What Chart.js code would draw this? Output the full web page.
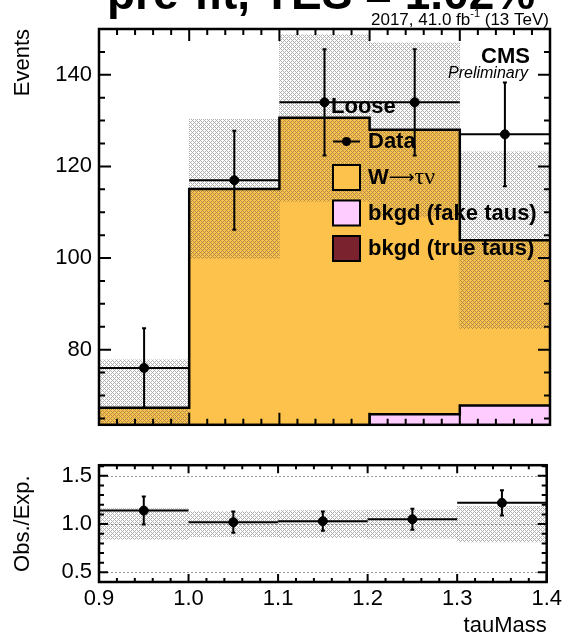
<!DOCTYPE html>
<html>
<head>
<meta charset="utf-8">
<script src="https://cdn.jsdelivr.net/npm/chart.js@4.4.1/dist/chart.umd.min.js"></script>
<style>
  html, body { margin: 0; padding: 0; background: #fff; overflow: hidden; }
  #wrap { position: relative; width: 566px; height: 637px; }
  #top { position: absolute; left: 0; top: 0; }
  #ratio { position: absolute; left: 0; top: 445px; }
</style>
</head>
<body>
<div id="wrap">
  <canvas id="top" width="566" height="445"></canvas>
  <canvas id="ratio" width="566" height="192"></canvas>
</div>
<script>
// tauMass bins
const binEdges = [0.9, 1.0, 1.1, 1.2, 1.3, 1.4];
const binCenters = [0.95, 1.05, 1.15, 1.25, 1.35];

// observed events and their errors
const dataEvents = [76, 117, 134, 134, 127];
const dataErr = [8.7, 10.8, 11.6, 11.6, 11.3];

// expected contributions (stacked from the bottom: true taus, fake taus, W)
const trueTaus = [22, 24, 26, 27, 28];
const fakeTaus = [36, 37, 37, 38.9, 39.8];
const wTauNu = [9.3, 54.1, 67.6, 62.1, 36.1];
const expErr = [10.5, 15.2, 18.2, 19.0, 19.3];

// ratio panel
const ratioVals = [1.14, 1.02, 1.03, 1.05, 1.22];
const ratioErr = [0.145, 0.11, 0.10, 0.11, 0.13];
const ratioBandErr = [0.16, 0.13, 0.14, 0.145, 0.185];

// tick labels
const xTicks = [0.9, 1.0, 1.1, 1.2, 1.3, 1.4];
const yTicks = [80, 100, 120, 140];
const ratioTicks = [0.5, 1.0, 1.5];

const ORANGE = '#fdc24b';
const PINK = '#ffccff';
const MAROON = '#7a222e';
const FONT = '"Liberation Sans", Arial, Helvetica, sans-serif';
const SERIF = '"Liberation Serif", "Times New Roman", serif';

// cumulative stacks
const stackTrue = trueTaus.slice();
const stackFake = fakeTaus.map((v, i) => v + trueTaus[i]);
const stackTotal = wTauNu.map((v, i) => v + stackFake[i]);

function range(a, b, step) {
  const out = [];
  for (let v = a; v <= b + 1e-9; v += step) out.push(+v.toFixed(4));
  return out;
}

function makeHatch(color) {
  const c = document.createElement('canvas');
  c.width = 4; c.height = 4;
  const g = c.getContext('2d');
  g.fillStyle = color;
  for (let x = 0; x < 4; x++) {
    for (let y = 0; y < 4; y++) {
      if ((x + y) % 4 === 0 || (x - y + 4) % 4 === 0) g.fillRect(x, y, 1, 1);
    }
  }
  return g.createPattern(c, 'repeat');
}

const hatch = makeHatch('rgba(80,80,80,0.45)');

const bars = vals => binCenters.map((x, i) => ({ x, y: vals[i] }));
const stepPoints = vals => binEdges.map((x, i) => ({ x, y: vals[Math.min(i, vals.length - 1)] }));

// draws the frame and inward ticks, ROOT style
const framePlugin = {
  id: 'frame',
  beforeDatasetsDraw(chart, args, o) {
    if (!o.dotted) return;
    const { ctx, chartArea: a, scales: { y } } = chart;
    ctx.save();
    ctx.strokeStyle = '#999';
    ctx.lineWidth = 1;
    ctx.setLineDash([2, 2]);
    o.dotted.forEach(v => {
      const py = Math.round(y.getPixelForValue(v)) + 0.5;
      ctx.beginPath();
      ctx.moveTo(a.left, py);
      ctx.lineTo(a.right, py);
      ctx.stroke();
    });
    ctx.restore();
  },
  afterDraw(chart, args, o) {
    const { ctx, chartArea: a, scales: { x, y } } = chart;
    ctx.save();
    ctx.strokeStyle = '#000';
    ctx.lineWidth = 2;
    ctx.beginPath();
    const xt = (vals, len) => vals.forEach(v => {
      const px = x.getPixelForValue(v);
      ctx.moveTo(px, a.bottom); ctx.lineTo(px, a.bottom - len);
      ctx.moveTo(px, a.top); ctx.lineTo(px, a.top + len);
    });
    const yt = (vals, len) => vals.forEach(v => {
      const py = y.getPixelForValue(v);
      if (py < a.top || py > a.bottom) return;
      ctx.moveTo(a.left, py); ctx.lineTo(a.left + len, py);
      ctx.moveTo(a.right, py); ctx.lineTo(a.right - len, py);
    });
    xt(o.xMajor, o.xMajorLen);
    xt(o.xMinor, o.xMinorLen);
    yt(o.yMajor, o.yMajorLen);
    yt(o.yMinor, o.yMinorLen);
    ctx.stroke();
    ctx.lineWidth = 2.5;
    ctx.strokeRect(a.left, a.top, a.right - a.left, a.bottom - a.top);
    ctx.restore();
  }
};

// vertical error bars + horizontal bin-width bars for datasets with errY
const errorBarPlugin = {
  id: 'errorBars',
  afterDatasetsDraw(chart) {
    const { ctx, chartArea: a, scales: { x, y } } = chart;
    chart.data.datasets.forEach(ds => {
      if (!ds.errY) return;
      ctx.save();
      ctx.beginPath();
      ctx.rect(a.left, a.top, a.right - a.left, a.bottom - a.top);
      ctx.clip();
      ctx.strokeStyle = '#000';
      ctx.lineWidth = 2;
      ds.data.forEach((p, i) => {
        const px = x.getPixelForValue(p.x);
        const py = y.getPixelForValue(p.y);
        const hi = y.getPixelForValue(p.y + ds.errY[i]);
        const lo = y.getPixelForValue(p.y - ds.errY[i]);
        ctx.beginPath();
        ctx.moveTo(px, lo); ctx.lineTo(px, hi);
        ctx.moveTo(px - 2, lo); ctx.lineTo(px + 2, lo);
        ctx.moveTo(px - 2, hi); ctx.lineTo(px + 2, hi);
        ctx.moveTo(x.getPixelForValue(binEdges[i]), py);
        ctx.lineTo(x.getPixelForValue(binEdges[i + 1]), py);
        ctx.stroke();
      });
      ctx.restore();
    });
  }
};

// legend, CMS label, lumi text and the (cut) title
const labelsPlugin = {
  id: 'labels',
  afterDatasetsDraw(chart) {
    const ctx = chart.ctx;
    ctx.save();
    ctx.fillStyle = '#000';
    ctx.textBaseline = 'alphabetic';

    // big title, mostly above the window
    ctx.font = 'bold 46px ' + FONT;
    ctx.textAlign = 'left';
    ctx.fillText('pre-fit, TES = 1.02%', 107, 9);

    // lumi
    ctx.font = '17px ' + FONT;
    ctx.textAlign = 'right';
    const part2 = ' (13 TeV)';
    let xr = 549;
    ctx.fillText(part2, xr, 25);
    xr -= ctx.measureText(part2).width;
    ctx.font = '11px ' + FONT;
    ctx.fillText('-1', xr, 17);
    xr -= ctx.measureText('-1').width;
    ctx.font = '17px ' + FONT;
    ctx.fillText('2017, 41.0 fb', xr, 25);

    // CMS Preliminary
    ctx.font = 'bold 22px ' + FONT;
    ctx.fillText('CMS', 530, 63);
    ctx.font = 'italic 16px ' + FONT;
    ctx.fillText('Preliminary', 528, 78);

    // legend
    ctx.textAlign = 'left';
    ctx.textBaseline = 'middle';
    ctx.font = 'bold 22px ' + FONT;
    ctx.fillText('Loose', 331, 107);

    ctx.strokeStyle = '#000';
    ctx.lineWidth = 2;
    ctx.beginPath();
    ctx.moveTo(333, 141.5); ctx.lineTo(360, 141.5);
    ctx.stroke();
    ctx.beginPath();
    ctx.arc(346.5, 141.5, 4.5, 0, Math.PI * 2);
    ctx.fill();
    ctx.fillText('Data', 368, 142);

    const entries = [
      { ds: 0, y: 165 },
      { ds: 1, y: 200.5 },
      { ds: 2, y: 236 }
    ];
    entries.forEach(e => {
      const d = chart.data.datasets[e.ds];
      ctx.fillStyle = d.backgroundColor;
      ctx.fillRect(333, e.y, 27, 25);
      ctx.strokeRect(333, e.y, 27, 25);
      ctx.fillStyle = '#000';
      if (d.legendParts) {
        let xp = 368;
        d.legendParts.forEach(([txt, font]) => {
          ctx.font = font;
          ctx.fillText(txt, xp, e.y + 13);
          xp += ctx.measureText(txt).width;
        });
      } else {
        ctx.font = 'bold 22px ' + FONT;
        ctx.fillText(d.label, 368, e.y + 13);
      }
    });
    ctx.restore();
  }
};

const axisFont = { family: FONT, size: 22 };
const noGrid = { display: false, drawTicks: false };

new Chart(document.getElementById('top'), {
  type: 'bar',
  data: {
    datasets: [
      {
        label: 'W→τν',
        legendParts: [['W', 'bold 22px ' + FONT], ['⟶', '18px "DejaVu Sans", sans-serif'], ['τν', '24px ' + SERIF]],
        data: bars(stackTotal), backgroundColor: ORANGE, order: 10
      },
      { label: 'bkgd (fake taus)', data: bars(stackFake), backgroundColor: PINK, order: 9 },
      { label: 'bkgd (true taus)', data: bars(stackTrue), backgroundColor: MAROON, order: 8 },
      {
        label: 'uncertainty',
        data: binCenters.map((x, i) => ({ x, y: [stackTotal[i] - expErr[i], stackTotal[i] + expErr[i]] })),
        backgroundColor: hatch, order: 7
      },
      { type: 'line', data: stepPoints(stackTrue), stepped: 'before', borderColor: '#000', borderWidth: 2.5, pointRadius: 0, order: 6 },
      { type: 'line', data: stepPoints(stackFake), stepped: 'before', borderColor: '#000', borderWidth: 2.5, pointRadius: 0, order: 5 },
      { type: 'line', data: stepPoints(stackTotal), stepped: 'before', borderColor: '#000', borderWidth: 2.5, pointRadius: 0, order: 4 },
      {
        type: 'line', label: 'Data', data: bars(dataEvents), errY: dataErr, showLine: false,
        pointRadius: 4.5, pointBackgroundColor: '#000', pointBorderColor: '#000', order: 1
      }
    ]
  },
  options: {
    responsive: false,
    animation: false,
    layout: { padding: { left: 0, right: 16, top: 29, bottom: 0 } },
    datasets: { bar: { grouped: false, barPercentage: 1, categoryPercentage: 1, borderWidth: 0 } },
    plugins: {
      legend: { display: false },
      tooltip: { enabled: false },
      frame: {
        xMajor: xTicks, xMinor: range(0.9, 1.4, 0.02), xMajorLen: 12, xMinorLen: 6,
        yMajor: yTicks, yMinor: range(65, 150, 5), yMajorLen: 12, yMinorLen: 6
      }
    },
    scales: {
      x: {
        type: 'linear', min: 0.9, max: 1.4, offset: false,
        grid: noGrid, border: { display: false },
        ticks: { display: false },
        afterBuildTicks: s => { s.ticks = xTicks.map(v => ({ value: v })); },
        afterFit: s => { s.height = 11; }
      },
      y: {
        min: 63.6, max: 150,
        grid: noGrid, border: { display: false },
        ticks: { font: axisFont, color: '#000', padding: 7 },
        afterBuildTicks: s => { s.ticks = yTicks.map(v => ({ value: v })); },
        afterFit: s => { s.width = 99; },
        title: { display: true, text: 'Events', align: 'end', color: '#000', font: axisFont, padding: { top: 10, bottom: 0 } }
      }
    }
  },
  plugins: [framePlugin, errorBarPlugin, labelsPlugin]
});

new Chart(document.getElementById('ratio'), {
  type: 'bar',
  data: {
    datasets: [
      {
        label: 'uncertainty',
        data: binCenters.map((x, i) => ({ x, y: [1 - ratioBandErr[i], 1 + ratioBandErr[i]] })),
        backgroundColor: hatch, order: 5
      },
      {
        type: 'line', label: 'Obs./Exp.', data: bars(ratioVals), errY: ratioErr, showLine: false,
        pointRadius: 4.5, pointBackgroundColor: '#000', pointBorderColor: '#000', order: 1
      }
    ]
  },
  options: {
    responsive: false,
    animation: false,
    layout: { padding: { left: 0, right: 16, top: 11, bottom: 0 } },
    datasets: { bar: { grouped: false, barPercentage: 1, categoryPercentage: 1, borderWidth: 0 } },
    plugins: {
      legend: { display: false },
      tooltip: { enabled: false },
      frame: {
        dotted: ratioTicks,
        xMajor: xTicks, xMinor: range(0.9, 1.4, 0.02), xMajorLen: 8, xMinorLen: 4,
        yMajor: ratioTicks, yMinor: range(0.4, 1.6, 0.1), yMajorLen: 9, yMinorLen: 5
      }
    },
    scales: {
      x: {
        type: 'linear', min: 0.9, max: 1.4, offset: false,
        grid: noGrid, border: { display: false },
        ticks: { font: axisFont, color: '#000', padding: 4, maxRotation: 0, callback: v => v.toFixed(1) },
        afterBuildTicks: s => { s.ticks = xTicks.map(v => ({ value: v })); },
        afterFit: s => { s.height = 55; },
        title: { display: true, text: 'tauMass', align: 'end', color: '#000', font: { family: FONT, size: 22, lineHeight: 1 }, padding: { top: 0, bottom: 0 } }
      },
      y: {
        min: 0.4, max: 1.61,
        grid: noGrid, border: { display: false },
        ticks: { font: axisFont, color: '#000', padding: 7, callback: v => v.toFixed(1) },
        afterBuildTicks: s => { s.ticks = ratioTicks.map(v => ({ value: v })); },
        afterFit: s => { s.width = 99; },
        title: { display: true, text: 'Obs./Exp.', color: '#000', font: axisFont, padding: { top: 10, bottom: 0 } }
      }
    }
  },
  plugins: [framePlugin, errorBarPlugin]
});
</script>
</body>
</html>
